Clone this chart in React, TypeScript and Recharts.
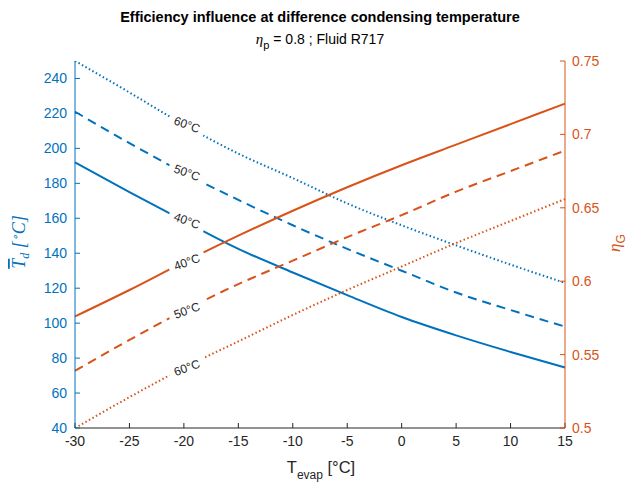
import React from "react";
import { LineChart, Line, XAxis, YAxis, LabelList } from "recharts";

// evaporation temperature [°C]
const tEvap = [-30, -25, -20, -15, -10, -5, 0, 5, 10, 15];

// mean discharge temperature [°C] (left axis)
const td40 = [192, 175, 158.5, 142.5, 129, 116, 103.5, 93, 83.5, 74.6];
const td50 = [221, 203, 186, 170.5, 156, 142.5, 130, 117.5, 107.5, 98];
const td60 = [250, 232, 213.5, 197, 183, 168.5, 156, 144.5, 133.5, 123];

// global efficiency (right axis)
const eta40 = [0.576, 0.594, 0.613, 0.631, 0.648, 0.664, 0.679, 0.693, 0.707, 0.721];
const eta50 = [0.539, 0.56, 0.58, 0.598, 0.614, 0.63, 0.645, 0.661, 0.675, 0.689];
const eta60 = [0.5, 0.521, 0.541, 0.559, 0.577, 0.594, 0.61, 0.626, 0.641, 0.656];

const xTicks = [-30, -25, -20, -15, -10, -5, 0, 5, 10, 15];
const leftTicks = [40, 60, 80, 100, 120, 140, 160, 180, 200, 220, 240];
const rightTicks = [0.5, 0.55, 0.6, 0.65, 0.7, 0.75];

const data = tEvap.map((t, i) => ({
    t,
    td40: td40[i],
    td50: td50[i],
    td60: td60[i],
    eta40: eta40[i],
    eta50: eta50[i],
    eta60: eta60[i],
}));

const BLUE = "#0072BD";
const ORANGE = "#D95319";
const GREY = "#262626";
const FONT = "'Liberation Sans', Arial, sans-serif";

// inline contour-style label, drawn on the 3rd point (-20 °C) with a white backing
const tag = (text: string, angle: number) => (props: any) => {
    if (props.index !== 2) return null;
    return (
        <g transform={`translate(${props.x + 3},${props.y}) rotate(${angle})`}>
            <rect x={-19} y={-8} width={38} height={16} fill="#fff" />
            <text
                textAnchor="middle"
                dominantBaseline="central"
                fontSize={12}
                fontFamily={FONT}
                fill={GREY}
            >
                {text}
            </text>
        </g>
    );
};

export default function App() {
    return (
        <div style={{ position: "absolute", left: 0, top: 0, width: 634, height: 482, background: "#fff" }}>
            <LineChart
                width={634}
                height={482}
                data={data}
                margin={{ top: 61, right: 0, bottom: 0, left: 0 }}
            >
                <XAxis
                    dataKey="t"
                    type="number"
                    domain={[-30, 15]}
                    ticks={xTicks}
                    stroke={GREY}
                    tickSize={-5}
                    tickMargin={13}
                    tick={{ fill: GREY, fontSize: 14, fontFamily: FONT }}
                    height={54}
                />
                <XAxis
                    xAxisId="top"
                    orientation="top"
                    dataKey="t"
                    type="number"
                    domain={[-30, 15]}
                    ticks={xTicks}
                    stroke={GREY}
                    tickSize={-5}
                    tickFormatter={() => ""}
                    height={0}
                />
                <YAxis
                    yAxisId="left"
                    domain={[40, 250]}
                    ticks={leftTicks}
                    stroke={BLUE}
                    width={75}
                    tickSize={-5}
                    tickMargin={13}
                    tick={{ fill: BLUE, fontSize: 14, fontFamily: FONT }}
                    allowDataOverflow
                />
                <YAxis
                    yAxisId="right"
                    orientation="right"
                    domain={[0.5, 0.75]}
                    ticks={rightTicks}
                    stroke={ORANGE}
                    width={69}
                    tickSize={-5}
                    tickMargin={12}
                    tickFormatter={(v: number) => String(+v.toFixed(2))}
                    tick={{ fill: ORANGE, fontSize: 14, fontFamily: FONT }}
                    allowDataOverflow
                />

                <Line yAxisId="left" type="monotone" dataKey="td40" stroke={BLUE} strokeWidth={2} dot={false} isAnimationActive={false}>
                    <LabelList content={tag("40°C", 20)} />
                </Line>
                <Line yAxisId="left" type="monotone" dataKey="td50" stroke={BLUE} strokeWidth={2} strokeDasharray="9 6" dot={false} isAnimationActive={false}>
                    <LabelList content={tag("50°C", 20)} />
                </Line>
                <Line yAxisId="left" type="monotone" dataKey="td60" stroke={BLUE} strokeWidth={2} strokeDasharray="1.5 2.5" dot={false} isAnimationActive={false}>
                    <LabelList content={tag("60°C", 20)} />
                </Line>
                <Line yAxisId="right" type="monotone" dataKey="eta40" stroke={ORANGE} strokeWidth={2} dot={false} isAnimationActive={false}>
                    <LabelList content={tag("40°C", -20)} />
                </Line>
                <Line yAxisId="right" type="monotone" dataKey="eta50" stroke={ORANGE} strokeWidth={2} strokeDasharray="9 6" dot={false} isAnimationActive={false}>
                    <LabelList content={tag("50°C", -20)} />
                </Line>
                <Line yAxisId="right" type="monotone" dataKey="eta60" stroke={ORANGE} strokeWidth={2} strokeDasharray="1.5 2.5" dot={false} isAnimationActive={false}>
                    <LabelList content={tag("60°C", -20)} />
                </Line>
            </LineChart>

            {/* titles and axis labels */}
            <svg width={634} height={482} style={{ position: "absolute", left: 0, top: 0, pointerEvents: "none" }}>
                <text x={320} y={22} textAnchor="middle" fontFamily={FONT} fontWeight="bold" fontSize={14.5} fill="#000">
                    Efficiency influence at difference condensing temperature
                </text>
                <text x={320} y={44} textAnchor="middle" fontFamily={FONT} fontSize={14} fill="#000">
                    <tspan fontStyle="italic" fontFamily="'Liberation Serif', serif" fontSize={15}>η</tspan>
                    <tspan dy={5} fontSize={11}>p</tspan>
                    <tspan dy={-5}> = 0.8 ; Fluid R717</tspan>
                </text>
                <text x={321} y={473} textAnchor="middle" fontFamily={FONT} fontSize={16.5} fill={GREY}>
                    <tspan>T</tspan>
                    <tspan dy={6} fontSize={12}>evap</tspan>
                    <tspan dy={-6}> [°C]</tspan>
                </text>
                <text
                    transform="translate(25,242) rotate(-90)"
                    textAnchor="middle"
                    fontFamily="'Liberation Serif', serif"
                    fontStyle="italic"
                    fontSize={18}
                    fill={BLUE}
                >
                    <tspan textDecoration="overline">T</tspan>
                    <tspan dy={4} fontSize={12}>d</tspan>
                    <tspan dy={-4}> [</tspan>
                    <tspan dy={-6} fontSize={11}>∘</tspan>
                    <tspan dy={6}>C]</tspan>
                </text>
                <text
                    transform="translate(620,243) rotate(-90)"
                    textAnchor="middle"
                    fontFamily="'Liberation Serif', serif"
                    fontSize={17}
                    fill={ORANGE}
                >
                    <tspan fontStyle="italic">η</tspan>
                    <tspan dy={5} fontSize={12} fontFamily={FONT}>G</tspan>
                </text>
            </svg>
        </div>
    );
}
